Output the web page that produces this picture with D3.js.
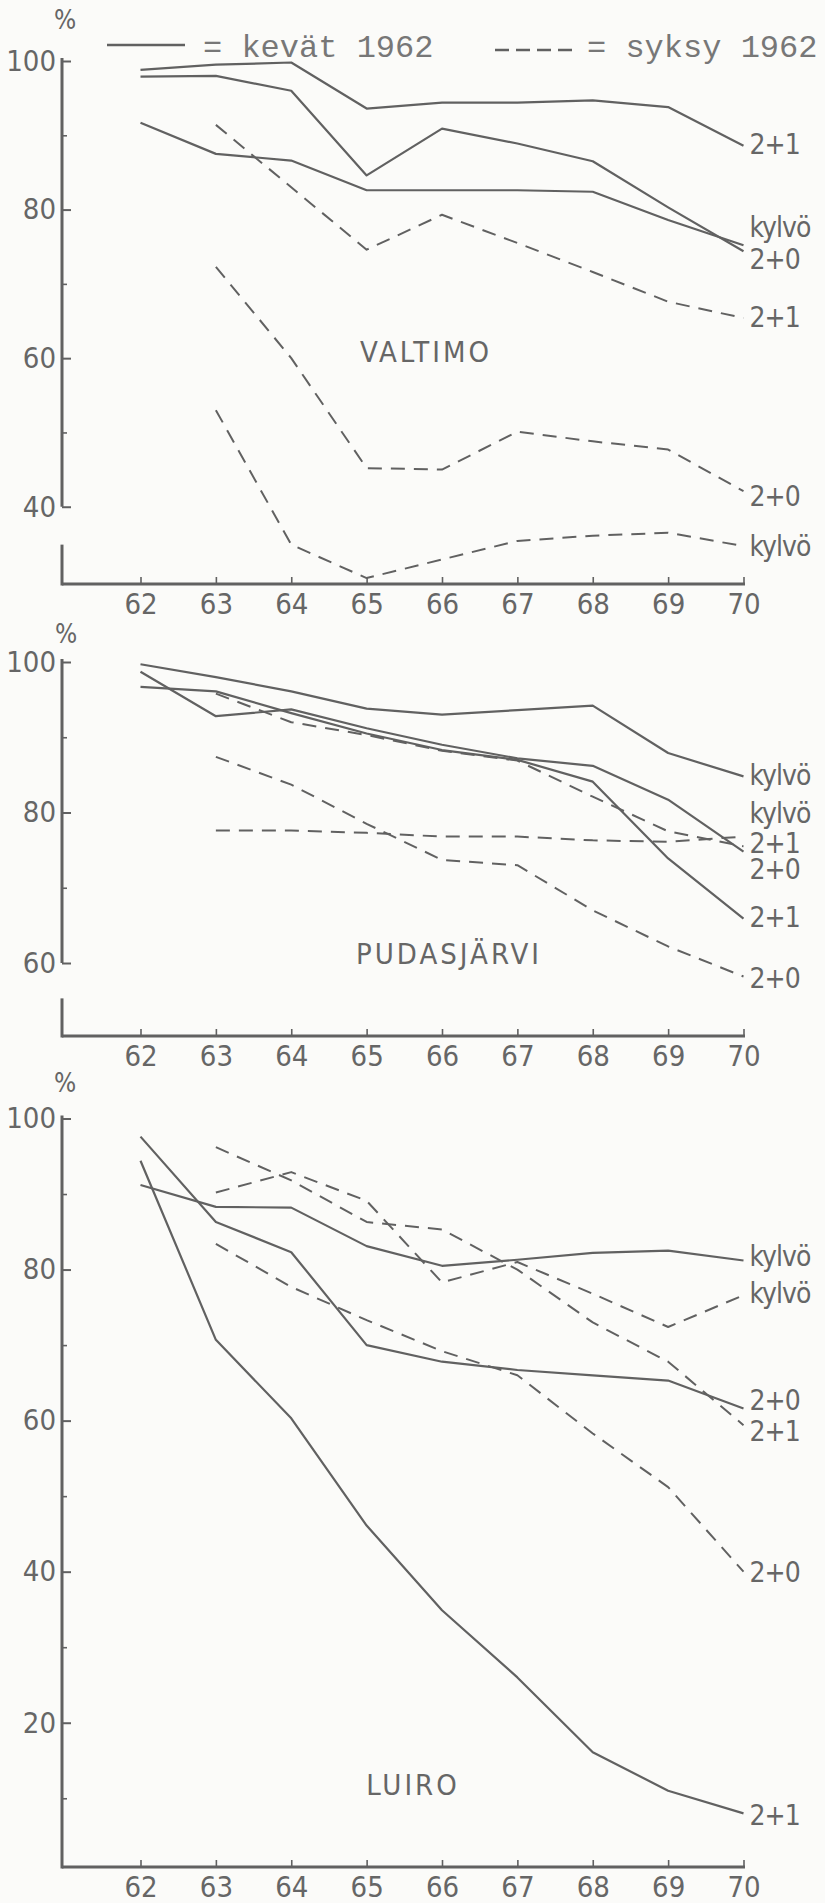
<!DOCTYPE html>
<html>
<head>
<meta charset="utf-8">
<script src="https://cdn.jsdelivr.net/npm/d3@7"></script>
<style>
  body { margin: 0; background: #fbfbf9; }
  #chart svg { display: block; }
  .lbl { font-family: "DejaVu Sans Condensed", "DejaVu Sans", sans-serif; font-stretch: condensed; fill: #666; }
  .legend { font-family: "Liberation Mono", "DejaVu Sans Mono", monospace; fill: #777; }
</style>
</head>
<body>
<div id="chart"></div>
<script>
// Years on the x axis (1962-1970)
var years = [62, 63, 64, 65, 66, 67, 68, 69, 70];

// VALTIMO
var valtimoKevat21    = [98.8, 99.5, 99.8, 93.6, 94.4, 94.4, 94.7, 93.8, 88.6];
var valtimoKevatKylvo = [91.7, 87.5, 86.6, 82.6, 82.6, 82.6, 82.4, 78.6, 75.2];
var valtimoKevat20    = [97.9, 98.0, 96.0, 84.6, 90.9, 88.9, 86.5, 80.3, 74.4];
var valtimoSyksy21    = [null, 91.4, 83.0, 74.6, 79.3, 75.5, 71.6, 67.6, 65.4];
var valtimoSyksy20    = [null, 72.3, 60.0, 45.2, 45.0, 50.1, 48.8, 47.7, 42.1];
var valtimoSyksyKylvo = [null, 53.0, 34.9, 30.4, 32.9, 35.4, 36.1, 36.5, 34.7];

// PUDASJÄRVI
var pudasKevatKylvo = [99.7, 98.0, 96.1, 93.8, 93.0, 93.6, 94.2, 87.9, 84.8];
var pudasKevat20    = [98.7, 92.8, 93.7, 91.2, 89.0, 87.2, 86.2, 81.7, 74.8];
var pudasKevat21    = [96.7, 96.1, 93.2, 90.5, 88.3, 87.0, 84.1, 73.9, 65.9];
var pudasSyksyKylvo = [null, 77.6, 77.6, 77.3, 76.8, 76.8, 76.3, 76.1, 76.8];
var pudasSyksy21    = [null, 95.8, 92.0, 90.3, 88.2, 86.9, 82.1, 77.5, 75.5];
var pudasSyksy20    = [null, 87.4, 83.7, 78.5, 73.7, 73.0, 67.0, 62.2, 58.2];

// LUIRO
var luiroKevatKylvo = [91.2, 88.3, 88.2, 83.1, 80.5, 81.3, 82.2, 82.5, 81.2];
var luiroKevat20    = [97.6, 86.3, 82.3, 70.0, 67.8, 66.7, 66.0, 65.3, 61.6];
var luiroKevat21    = [94.4, 70.7, 60.3, 46.1, 34.9, 26.0, 16.1, 11.0, 8.0];
var luiroSyksyKylvo = [null, 90.2, 92.9, 89.1, 78.3, 81.0, 76.8, 72.4, 76.6];
var luiroSyksy21    = [null, 96.2, 91.8, 86.3, 85.3, 80.0, 73.0, 67.8, 59.4];
var luiroSyksy20    = [null, 83.4, 77.7, 73.3, 69.2, 66.0, 58.3, 51.2, 40.0];

// Tick values
var valtimoMajor = [100, 80, 60, 40], valtimoMinor = [90, 70, 50];
var pudasMajor = [100, 80, 60], pudasMinor = [90, 70];
var luiroMajor = [100, 80, 60, 40, 20], luiroMinor = [90, 70, 50, 30, 10];

// Legend texts
var legendSolid = "= kevät 1962";
var legendDashed = "= syksy 1962";

var panels = [
  { name: "VALTIMO", major: valtimoMajor, minor: valtimoMinor,
    series: [
      { v: valtimoKevat21, dashed: false, label: "2+1" },
      { v: valtimoKevatKylvo, dashed: false, label: "kylvö" },
      { v: valtimoKevat20, dashed: false, label: "2+0" },
      { v: valtimoSyksy21, dashed: true, label: "2+1" },
      { v: valtimoSyksy20, dashed: true, label: "2+0" },
      { v: valtimoSyksyKylvo, dashed: true, label: "kylvö" }
    ] },
  { name: "PUDASJÄRVI", major: pudasMajor, minor: pudasMinor,
    series: [
      { v: pudasKevatKylvo, dashed: false, label: "kylvö" },
      { v: pudasKevat20, dashed: false, label: "2+0" },
      { v: pudasKevat21, dashed: false, label: "2+1" },
      { v: pudasSyksyKylvo, dashed: true, label: "kylvö" },
      { v: pudasSyksy21, dashed: true, label: "2+1" },
      { v: pudasSyksy20, dashed: true, label: "2+0" }
    ] },
  { name: "LUIRO", major: luiroMajor, minor: luiroMinor,
    series: [
      { v: luiroKevatKylvo, dashed: false, label: "kylvö" },
      { v: luiroKevat20, dashed: false, label: "2+0" },
      { v: luiroKevat21, dashed: false, label: "2+1" },
      { v: luiroSyksyKylvo, dashed: true, label: "kylvö" },
      { v: luiroSyksy21, dashed: true, label: "2+1" },
      { v: luiroSyksy20, dashed: true, label: "2+0" }
    ] }
];

// Layout of each panel: y scale, axis break, title and label offsets
var layout = [
  { yMin: 29.6, bottom: 584, top: 61, breakAt: 40, resumeAt: 34.9,
    pct: [65, 20], title: [426, 352], labelDy: [8, -8, 18, 9, 15, 10] },
  { yMin: 50.3, bottom: 1036, top: 662, breakAt: 60, resumeAt: 55.3,
    pct: [66, 634], title: [449, 954], labelDy: [9, 27, 8, -14, 7, 11] },
  { yMin: 0.9, bottom: 1867, top: 1118.5, breakAt: null, resumeAt: null,
    pct: [65, 1083], title: [413, 1785], labelDy: [6, 1, 12, 8, 16, 10] }
];

var W = 825, H = 1903, axisX = 62;
var ink = "#616161";

var svg = d3.select("#chart").append("svg")
  .attr("width", W).attr("height", H);

svg.append("rect").attr("width", W).attr("height", H).attr("fill", "#fbfbf9");

var x = d3.scaleLinear().domain([62, 70]).range([140.5, 743.5]);

panels.forEach(function(p, k) {
  var L = layout[k];
  var y = d3.scaleLinear().domain([L.yMin, 100]).range([L.bottom, L.top]);
  var g = svg.append("g");

  // y axis line (broken where needed)
  if (L.breakAt != null) {
    g.append("line").attr("x1", axisX).attr("x2", axisX)
      .attr("y1", y(100) - 3).attr("y2", y(L.breakAt))
      .attr("stroke", ink).attr("stroke-width", 3);
    g.append("line").attr("x1", axisX).attr("x2", axisX)
      .attr("y1", y(L.resumeAt)).attr("y2", y(L.yMin) + 1.5)
      .attr("stroke", ink).attr("stroke-width", 3);
  } else {
    g.append("line").attr("x1", axisX).attr("x2", axisX)
      .attr("y1", y(100) - 3).attr("y2", y(L.yMin) + 1.5)
      .attr("stroke", ink).attr("stroke-width", 3);
  }

  // x axis line
  g.append("line").attr("x1", axisX).attr("x2", x(70) + 1.5)
    .attr("y1", y(L.yMin)).attr("y2", y(L.yMin))
    .attr("stroke", ink).attr("stroke-width", 3);

  // y ticks
  var yAxis = d3.axisLeft(y).tickValues(p.major).tickSizeInner(-9).tickSizeOuter(0)
    .tickPadding(6).tickFormat(d3.format("d"));
  g.append("g").attr("transform", "translate(" + axisX + ",0)")
    .call(yAxis)
    .call(function(a) { a.select(".domain").remove(); })
    .attr("font-size", 29).attr("font-family", null).attr("color", ink)
    .selectAll("text").attr("class", "lbl");
  g.selectAll(".tick line").attr("stroke-width", 2);

  var yMinor = d3.axisLeft(y).tickValues(p.minor).tickSizeInner(-5).tickSizeOuter(0)
    .tickFormat("");
  g.append("g").attr("transform", "translate(" + axisX + ",0)")
    .call(yMinor)
    .call(function(a) { a.select(".domain").remove(); })
    .attr("color", ink)
    .selectAll(".tick line").attr("stroke-width", 1.6);

  // x ticks
  var xAxis = d3.axisBottom(x).tickValues(years).tickSizeInner(-7).tickSizeOuter(0)
    .tickPadding(9).tickFormat(d3.format("d"));
  g.append("g").attr("transform", "translate(0," + y(L.yMin) + ")")
    .call(xAxis)
    .call(function(a) { a.select(".domain").remove(); })
    .attr("font-size", 29).attr("font-family", null).attr("color", ink)
    .call(function(a) { a.selectAll(".tick line").attr("stroke-width", 1.6); })
    .selectAll("text").attr("class", "lbl");

  // %
  g.append("text").attr("class", "lbl")
    .attr("x", L.pct[0]).attr("y", L.pct[1]).attr("dy", "0.35em")
    .attr("text-anchor", "middle").attr("font-size", 26).text("%");

  // panel title
  g.append("text").attr("class", "lbl")
    .attr("x", L.title[0]).attr("y", L.title[1]).attr("dy", "0.36em")
    .attr("text-anchor", "middle").attr("font-size", 29)
    .attr("letter-spacing", 3).text(p.name);

  // lines
  var line = d3.line()
    .defined(function(d) { return d != null; })
    .x(function(d, i) { return x(years[i]); })
    .y(function(d) { return y(d); });

  p.series.forEach(function(s, j) {
    g.append("path")
      .attr("d", line(s.v))
      .attr("fill", "none")
      .attr("stroke", ink)
      .attr("stroke-width", s.dashed ? 2 : 2.2)
      .attr("stroke-dasharray", s.dashed ? "14,9" : null)
      .attr("stroke-linejoin", "round");

    var last = s.v[s.v.length - 1];
    g.append("text").attr("class", "lbl")
      .attr("x", x(70) + 6)
      .attr("y", y(last) + L.labelDy[j])
      .attr("font-size", 28)
      .attr("letter-spacing", -1)
      .text(s.label);
  });
});

// Legend
var lg = svg.append("g");
lg.append("line").attr("x1", 107).attr("x2", 185).attr("y1", 45).attr("y2", 45)
  .attr("stroke", ink).attr("stroke-width", 2.5);
lg.append("text").attr("class", "legend").attr("x", 203).attr("y", 57)
  .attr("font-size", 32).text(legendSolid);
lg.append("line").attr("x1", 495).attr("x2", 574).attr("y1", 50).attr("y2", 50)
  .attr("stroke", ink).attr("stroke-width", 2.5).attr("stroke-dasharray", "14,7");
lg.append("text").attr("class", "legend").attr("x", 587).attr("y", 57)
  .attr("font-size", 32).text(legendDashed);
</script>
</body>
</html>
